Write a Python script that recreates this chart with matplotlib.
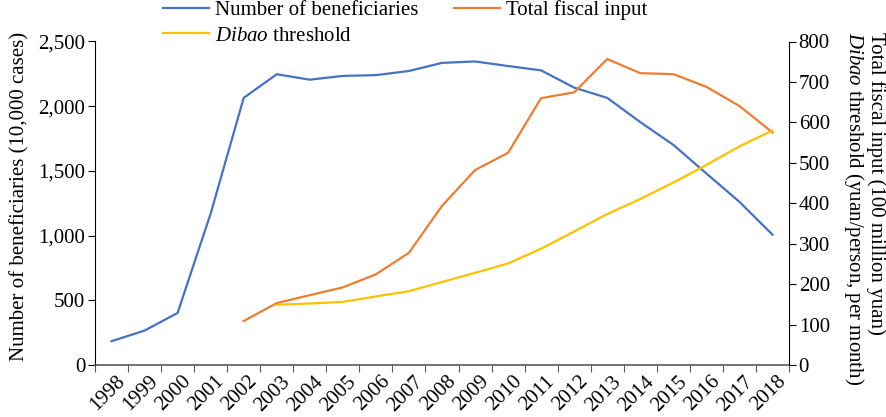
import numpy as np
import matplotlib.pyplot as plt
import matplotlib.transforms as mtransforms

plt.rcParams['font.family'] = ['Liberation Serif', 'DejaVu Serif']
plt.rcParams['mathtext.fontset'] = 'custom'
plt.rcParams['mathtext.rm'] = 'Liberation Serif'
plt.rcParams['mathtext.it'] = 'Liberation Serif:italic'

years = [str(y) for y in range(1998, 2019)]

# number of beneficiaries (10,000 cases), 1998-2018
beneficiaries = [184.1, 265.9, 402.6, 1170.7, 2064.7, 2246.8, 2205.0, 2234.2, 2240.1, 2272.1,
                 2334.8, 2345.6, 2310.5, 2276.8, 2143.5, 2064.2, 1877.0, 1701.1, 1480.2, 1261.0, 1007.0]
# total fiscal input (100 million yuan), 2002-2018
fiscal_years = years[4:]
fiscal_input = [108.7, 153.1, 172.7, 191.9, 224.2, 277.4, 393.4, 482.1, 524.7, 659.9,
                674.3, 756.7, 721.7, 719.3, 687.9, 640.5, 575.2]
# dibao threshold (yuan/person, per month), 2003-2018
threshold_years = years[5:]
threshold = [149.0, 152.0, 156.0, 169.6, 182.4, 205.3, 227.8, 251.2, 287.6, 330.1,
             373.3, 410.5, 451.1, 494.6, 540.6, 579.7]

fs = 15
fig = plt.figure(figsize=(8.86, 4.17), dpi=100)
ax = fig.add_axes([95/886, 1-365/417, (789-95)/886, (365-41.5)/417])
ax2 = ax.twinx()

xpos = {y: i + 0.5 for i, y in enumerate(years)}

l1, = ax.plot([xpos[y] for y in years], beneficiaries, c="#4472C4", lw=1.6,
              label="Number of beneficiaries")
l2, = ax2.plot([xpos[y] for y in fiscal_years], fiscal_input, c="#ED7D31", lw=1.6,
               label="Total fiscal input")
l3, = ax2.plot([xpos[y] for y in threshold_years], threshold, c="#FFC000", lw=1.6,
               label=r"$\it{Dibao}$ threshold")

ax.set_xlim(0, len(years))
ax.set_ylim(0, 2500)
ax2.set_ylim(0, 800)
ax.set_yticks(np.arange(0, 2501, 500))
ax.set_yticklabels(["{:,}".format(v) for v in range(0, 2501, 500)], fontsize=fs)
ax2.set_yticks(np.arange(0, 801, 100))
ax2.set_yticklabels([str(v) for v in range(0, 801, 100)], fontsize=fs)

ax.set_xticks(np.arange(0, len(years) + 1))
ax.set_xticklabels([])
ax.set_xticks([xpos[y] for y in years], minor=True)
ax.set_xticklabels(years, minor=True, fontsize=fs, rotation=45, ha='right', va='center',
                   rotation_mode='anchor')
ax.tick_params(axis='x', which='minor', length=0, pad=10)
ax.tick_params(axis='x', which='major', length=5, color='#595959')
ax.tick_params(axis='y', direction='out', length=5, pad=2)
ax2.tick_params(axis='y', direction='out', length=5, pad=2)

# nudge year labels right, as in the original
shift = mtransforms.ScaledTranslation(11/100, 0, fig.dpi_scale_trans)
for lab in ax.get_xticklabels(minor=True):
    lab.set_transform(lab.get_transform() + shift)

for a in (ax, ax2):
    a.spines['top'].set_visible(False)
ax.spines['bottom'].set_color('#595959')
ax.spines['bottom'].set_linewidth(1.2)
ax2.spines['bottom'].set_visible(False)
ax2.spines['left'].set_visible(False)
ax.spines['right'].set_visible(False)

fig.text(20/886, 1-196/417, "Number of beneficiaries (10,000 cases)", rotation=90,
         ha='center', va='center', fontsize=fs)
fig.text(864/886, 1-32/417,
         "Total fiscal input (100 million yuan)\n" + r"$\it{Dibao}$" + " threshold (yuan/person, per month)",
         rotation=-90, ha='center', va='top', multialignment='left', fontsize=fs, linespacing=1.0)

fig.legend(handles=[l1, l3, l2], loc='upper left', bbox_to_anchor=(155/886, 1.02), ncol=2,
           frameon=False, fontsize=fs, handlelength=2.2, handletextpad=0.3,
           columnspacing=1.7, labelspacing=0.3, borderaxespad=0)

fig.savefig("out.png", dpi=100)
